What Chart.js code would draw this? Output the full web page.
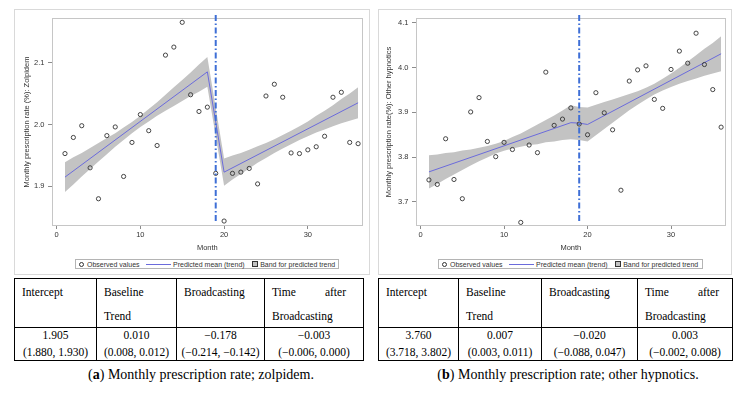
<!DOCTYPE html>
<html>
<head>
<meta charset="utf-8">
<script src="https://cdn.jsdelivr.net/npm/chart.js@4.4.1/dist/chart.umd.min.js"></script>
<style>
body { margin:0; width:747px; height:394px; background:#fff; position:relative; overflow:hidden; }
.panel { position:absolute; top:9px; height:264px; border:1px solid #d9d9d9; }
.panel canvas { position:absolute; left:0; top:0; }
.legend { position:absolute; top:249px; height:10px; box-sizing:border-box; border:1px solid #b4b4b4;
  font:7px "Liberation Sans", Arial, sans-serif; color:#333; display:flex; align-items:center; white-space:nowrap; }
.sym-circle { width:3px; height:3px; border:1px solid #333; border-radius:50%; margin:0 3.5px 0 2.5px; }
.sym-line { width:25px; height:1px; background:#6b6bdc; margin:0 2.5px 0 6px; }
.sym-box { width:4px; height:4px; background:#c3c3c3; border:0.8px solid #333; margin:0 2.5px 0 7px; }
table.tbl { position:absolute; top:278px; border-collapse:collapse; table-layout:fixed;
  font:11.5px "Liberation Serif", "Times New Roman", serif; color:#000; }
table.tbl td { border:1px solid #000; vertical-align:top; }
tr.hd td { padding:0 0 0 7px; }
tr.hd td div.cell { height:48px; line-height:24px; padding-top:1px; box-sizing:border-box; }
tr.dt td { padding:0; text-align:center; }
tr.dt td div.cell { height:33px; line-height:16.5px; margin-top:-1px; }
.just { display:flex; justify-content:space-between; width:74px; }
.cap { position:absolute; top:366px; width:360px; text-align:center; font:14px "Liberation Serif", "Times New Roman", serif; color:#000; line-height:18px; }
</style>
</head>
<body>

<div class="panel" style="left:14px; width:354px;">
  <canvas id="zolpidem" width="354" height="244"></canvas>
  <div class="legend" style="left:60px; width:264px;">
    <span class="sym-circle"></span><span>Observed values</span>
    <span class="sym-line"></span><span>Predicted mean (trend)</span>
    <span class="sym-box"></span><span>Band for predicted trend</span>
  </div>
</div>

<div class="panel" style="left:378px; width:352px;">
  <canvas id="other" width="352" height="244"></canvas>
  <div class="legend" style="left:59px; width:265px;">
    <span class="sym-circle"></span><span>Observed values</span>
    <span class="sym-line"></span><span>Predicted mean (trend)</span>
    <span class="sym-box"></span><span>Band for predicted trend</span>
  </div>
</div>

<table class="tbl" style="left:14px; width:349px;">
  <colgroup><col style="width:82px"><col style="width:80px"><col style="width:88px"><col style="width:99px"></colgroup>
  <tr class="hd">
    <td><div class="cell">Intercept</div></td>
    <td><div class="cell">Baseline<br>Trend</div></td>
    <td><div class="cell">Broadcasting</div></td>
    <td><div class="cell"><div class="just"><span>Time</span><span>after</span></div>Broadcasting</div></td>
  </tr>
  <tr class="dt">
    <td><div class="cell">1.905<br>(1.880, 1.930)</div></td>
    <td><div class="cell">0.010<br>(0.008, 0.012)</div></td>
    <td><div class="cell">−0.178<br>(−0.214, −0.142)</div></td>
    <td><div class="cell">−0.003<br>(−0.006, 0.000)</div></td>
  </tr>
</table>

<table class="tbl" style="left:378px; width:354px;">
  <colgroup><col style="width:80px"><col style="width:83px"><col style="width:96px"><col style="width:95px"></colgroup>
  <tr class="hd">
    <td><div class="cell">Intercept</div></td>
    <td><div class="cell">Baseline<br>Trend</div></td>
    <td><div class="cell">Broadcasting</div></td>
    <td><div class="cell"><div class="just"><span>Time</span><span>after</span></div>Broadcasting</div></td>
  </tr>
  <tr class="dt">
    <td><div class="cell">3.760<br>(3.718, 3.802)</div></td>
    <td><div class="cell">0.007<br>(0.003, 0.011)</div></td>
    <td><div class="cell">−0.020<br>(−0.088, 0.047)</div></td>
    <td><div class="cell">0.003<br>(−0.002, 0.008)</div></td>
  </tr>
</table>

<div class="cap" style="left:21px;">(<b>a</b>) Monthly prescription rate; zolpidem.</div>
<div class="cap" style="left:388px;">(<b>b</b>) Monthly prescription rate; other hypnotics.</div>

<script>
// data
const months = [1,2,3,4,5,6,7,8,9,10,11,12,13,14,15,16,17,18,19,20,21,22,23,24,25,26,27,28,29,30,31,32,33,34,35,36];
const breakMonth = 19;
const monthTicks = [0, 10, 20, 30];

// (a) zolpidem
const zolpidemRate = [1.953,1.979,1.998,1.930,1.880,1.982,1.996,1.916,1.971,2.016,1.990,1.966,2.112,2.125,2.165,2.048,2.021,2.028,
                      1.921,1.844,1.921,1.923,1.929,1.904,2.046,2.065,2.044,1.954,1.953,1.959,1.964,1.981,2.044,2.052,1.971,1.969];
const zolTrendMonths = [1, 18, 20, 36];
const zolTrend = [1.915, 2.085, 1.923, 2.035];
const zolBandMonths = [1,2,3,4,5,6,7,8,9,10,11,12,13,14,15,16,17,18,20,21,22,23,24,25,26,27,28,29,30,31,32,33,34,35,36];
const zolBandUpper = [1.939,1.947,1.954,1.962,1.970,1.978,1.986,1.995,2.004,2.014,2.025,2.036,2.048,2.060,2.072,2.084,2.097,2.109,
                      1.945,1.950,1.954,1.959,1.965,1.970,1.976,1.983,1.990,1.997,2.005,2.014,2.022,2.031,2.041,2.050,2.060];
const zolBandLower = [1.891,1.903,1.916,1.928,1.940,1.952,1.964,1.975,1.986,1.996,2.005,2.014,2.022,2.030,2.038,2.046,2.053,2.061,
                      1.901,1.911,1.920,1.929,1.938,1.946,1.954,1.961,1.968,1.975,1.981,1.987,1.992,1.997,2.002,2.006,2.010];
const zolTicks = [1.9, 2.0, 2.1];

// (b) other hypnotics
const otherRate = [3.749,3.739,3.841,3.750,3.707,3.901,3.933,3.835,3.801,3.833,3.817,3.654,3.827,3.810,3.990,3.871,3.885,3.910,
                   3.874,3.850,3.944,3.899,3.861,3.726,3.970,3.995,4.004,3.929,3.909,3.996,4.037,4.010,4.077,4.007,3.951,3.867];
const otherTrendMonths = [1, 18, 19, 20, 36];
const otherTrend = [3.767, 3.877, 3.876, 3.873, 4.031];
const otherBandMonths = months;
const otherBandUpper = [3.804,3.806,3.809,3.811,3.815,3.817,3.821,3.825,3.830,3.836,3.845,3.853,3.863,3.873,3.883,3.893,3.904,3.916,3.912,
                        3.911,3.917,3.923,3.929,3.935,3.941,3.947,3.955,3.964,3.975,3.987,4.000,4.014,4.028,4.042,4.055,4.070];
const otherBandLower = [3.730,3.740,3.751,3.761,3.771,3.781,3.791,3.799,3.808,3.814,3.819,3.823,3.827,3.829,3.833,3.835,3.838,3.840,3.838,
                        3.835,3.849,3.863,3.877,3.891,3.905,3.917,3.929,3.940,3.949,3.957,3.964,3.970,3.976,3.982,3.987,3.992];
const otherTicks = [3.7, 3.8, 3.9, 4.0, 4.1];

Chart.defaults.font.family = '"Liberation Sans", Arial, sans-serif';
Chart.defaults.font.size = 7.5;
Chart.defaults.color = '#333';

function pairs(xs, ys) {
    return xs.map(function (x, i) { return { x: x, y: ys[i] }; });
}

// plot frame + dash-dot line at the broadcasting month
var framePlugin = {
    id: 'frame',
    afterDatasetsDraw(chart) {
        var a = chart.chartArea;
        var ctx = chart.ctx;
        var x = chart.scales.x.getPixelForValue(breakMonth);
        ctx.save();
        ctx.strokeStyle = '#c6c6c6';
        ctx.lineWidth = 1;
        ctx.strokeRect(Math.round(a.left) + 0.5, Math.round(a.top) + 0.5, Math.round(a.right - a.left) - 1, Math.round(a.bottom - a.top) - 1);
        ctx.strokeStyle = '#3e6fd6';
        ctx.lineWidth = 2;
        ctx.setLineDash([6, 2.5, 1.5, 2.5]);
        ctx.beginPath();
        ctx.moveTo(x, a.top - 3);
        ctx.lineTo(x, a.bottom - 5);
        ctx.stroke();
        ctx.restore();
    }
};

function makeChart(id, obs, trendX, trendY, bandX, bandUp, bandLo, yMin, yMax, yTicks, yTitle, padRight, titlePad) {
    var ctx = document.getElementById(id).getContext('2d');
    return new Chart(ctx, {
        type: 'line',
        data: {
            datasets: [{
                label: 'Observed values',
                data: pairs(months, obs),
                showLine: false,
                pointStyle: 'circle',
                pointRadius: 2.1,
                pointBorderWidth: 0.9,
                pointBorderColor: '#333',
                pointBackgroundColor: 'rgba(0,0,0,0)',
                clip: false
            }, {
                label: 'Predicted mean (trend)',
                data: pairs(trendX, trendY),
                borderColor: '#6b6bdc',
                borderWidth: 1,
                pointRadius: 0,
                fill: false
            }, {
                label: 'upper',
                data: pairs(bandX, bandUp),
                borderColor: 'rgba(0,0,0,0)',
                pointRadius: 0,
                fill: false
            }, {
                label: 'Band for predicted trend',
                data: pairs(bandX, bandLo),
                borderColor: 'rgba(0,0,0,0)',
                backgroundColor: '#c3c3c3',
                pointRadius: 0,
                fill: '-1'
            }]
        },
        options: {
            responsive: false,
            animation: false,
            devicePixelRatio: 1,
            layout: { padding: { top: 5.3, right: padRight, left: 0, bottom: 0 } },
            plugins: { legend: { display: false }, tooltip: { enabled: false } },
            scales: {
                x: {
                    type: 'linear',
                    min: -0.55,
                    max: 36.55,
                    afterBuildTicks: function (s) { s.ticks = monthTicks.map(function (v) { return { value: v }; }); },
                    afterFit: function (s) { s.height = 28; },
                    ticks: { padding: 1.5, maxRotation: 0, autoSkip: false, color: '#333' },
                    grid: { drawOnChartArea: false, tickLength: 3, color: '#8c8c8c' },
                    border: { display: false },
                    title: { display: true, text: 'Month', padding: { top: 0, bottom: 1.5 }, color: '#333' }
                },
                y: {
                    min: yMin,
                    max: yMax,
                    afterBuildTicks: function (s) { s.ticks = yTicks.map(function (v) { return { value: v }; }); },
                    afterFit: function (s) { s.width = 37; },
                    ticks: { padding: 3.5, color: '#333', callback: function (v) { return v.toFixed(1); } },
                    grid: { drawOnChartArea: false, tickLength: 4, color: '#8c8c8c' },
                    border: { display: false },
                    title: { display: true, text: yTitle, padding: { top: titlePad, bottom: 0 }, color: '#333' }
                }
            }
        },
        plugins: [framePlugin]
    });
}

makeChart('zolpidem', zolpidemRate, zolTrendMonths, zolTrend, zolBandMonths, zolBandUpper, zolBandLower,
    1.836, 2.172, zolTicks, 'Monthly prescription rate (%): Zolpidem', 6.3, 7.5);
makeChart('other', otherRate, otherTrendMonths, otherTrend, otherBandMonths, otherBandUpper, otherBandLower,
    3.646, 4.111, otherTicks, 'Monthly prescription rate(%): Other hypnotics', 5.3, 5.5);
</script>
</body>
</html>
